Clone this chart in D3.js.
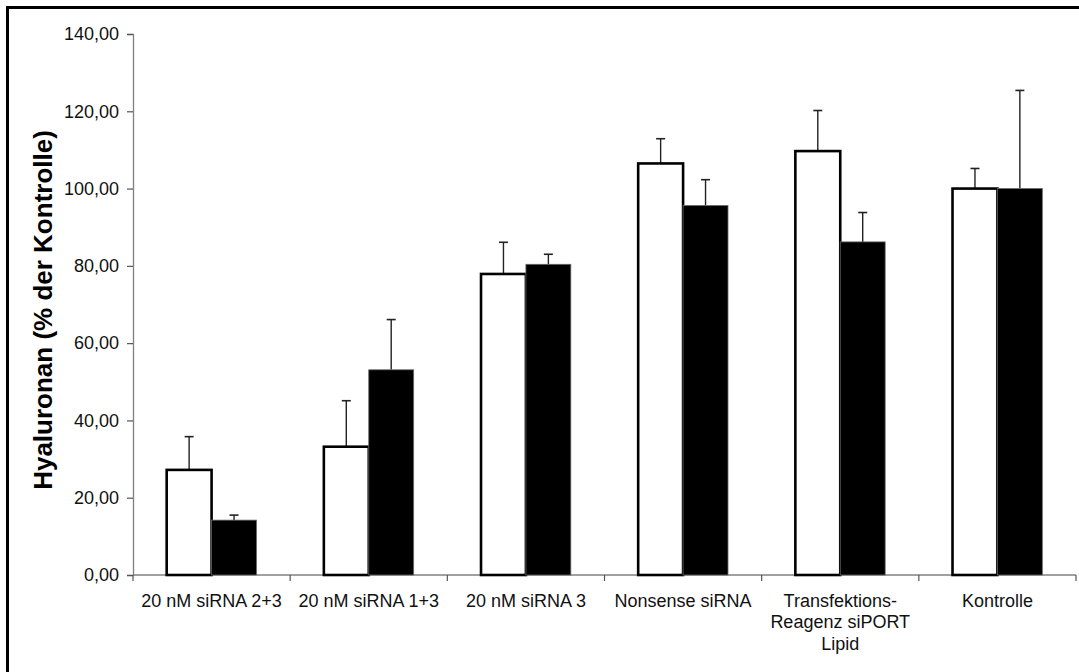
<!DOCTYPE html>
<html>
<head>
<meta charset="utf-8">
<script src="https://cdn.jsdelivr.net/npm/d3@7"></script>
<style>
  html, body { margin: 0; padding: 0; background: #fff; }
  svg { display: block; font-family: "Liberation Sans", Arial, sans-serif; }
</style>
</head>
<body>
<svg id="chart" width="1079" height="672"></svg>
<script>
// Hyaluronan levels per treatment, two series (open and filled bars)
const categories = [
  ["20 nM siRNA 2+3"],
  ["20 nM siRNA 1+3"],
  ["20 nM siRNA 3"],
  ["Nonsense siRNA"],
  ["Transfektions-", "Reagenz siPORT", "Lipid"],
  ["Kontrolle"]
];
const seriesA = [27.2, 33.2, 77.9, 106.5, 109.7, 100.0];
const seriesAErr = [8.6, 11.9, 8.2, 6.4, 10.5, 5.2];
const seriesB = [14.2, 53.1, 80.4, 95.6, 86.2, 100.0];
const seriesBErr = [1.3, 13.0, 2.6, 6.7, 7.6, 25.4];
const yTicks = [0, 20, 40, 60, 80, 100, 120, 140];
const yTitle = "Hyaluronan (% der Kontrolle)";

const svg = d3.select("#chart");
const plotLeft = 133, plotRight = 1076, plotTop = 34, plotBottom = 575;
const labelSize = 18;

// Outer frame (extends beyond the visible area on right/bottom)
svg.append("rect")
  .attr("x", 7.5).attr("y", 7.5)
  .attr("width", 1100).attr("height", 700)
  .attr("fill", "none").attr("stroke", "#000").attr("stroke-width", 3);

const x = d3.scaleBand().domain(d3.range(categories.length)).range([plotLeft, plotRight]).paddingInner(0).paddingOuter(0);
const y = d3.scaleLinear().domain([0, 140]).range([plotBottom, plotTop]);

const groupW = x.bandwidth();
const barW = groupW / 3.5;
const offset = (groupW - 2 * barW) / 2;

const fmt = v => d3.format(".2f")(v).replace(".", ",");

// Y axis
const yAxis = svg.append("g").attr("transform", `translate(${plotLeft},0)`)
  .call(d3.axisLeft(y).tickValues(yTicks).tickFormat(fmt).tickSize(6).tickPadding(8));
yAxis.select(".domain").attr("stroke", "#808080").attr("stroke-width", 1.3);
yAxis.selectAll(".tick line").attr("stroke", "#555").attr("stroke-width", 1.2);
yAxis.selectAll(".tick text").attr("font-size", labelSize).attr("fill", "#111")
  .attr("font-family", "Liberation Sans, Arial, sans-serif");

// X axis
const xAxis = svg.append("g").attr("transform", `translate(0,${plotBottom})`);
xAxis.append("line").attr("x1", plotLeft).attr("x2", plotRight).attr("y1", 0).attr("y2", 0)
  .attr("stroke", "#808080").attr("stroke-width", 1.3);
const xTickPos = d3.range(categories.length + 1).map(i => plotLeft + i * groupW);
xAxis.selectAll("line.xt").data(xTickPos).join("line").attr("class", "xt")
  .attr("x1", d => d).attr("x2", d => d).attr("y1", 0).attr("y2", 6)
  .attr("stroke", "#555").attr("stroke-width", 1.2);

const labels = svg.append("g");
categories.forEach((lines, i) => {
  const t = labels.append("text")
    .attr("x", x(i) + groupW / 2).attr("y", 607)
    .attr("text-anchor", "middle").attr("font-size", labelSize).attr("fill", "#111");
  lines.forEach((ln, j) => {
    t.append("tspan").attr("x", x(i) + groupW / 2).attr("dy", j === 0 ? 0 : 21.3).text(ln);
  });
});

// Bars
const bars = svg.append("g");
const drawSeries = (vals, errs, idx, fill, stroke, sw) => {
  vals.forEach((v, i) => {
    const bx = x(i) + offset + idx * barW;
    const cx = bx + barW / 2;
    const e = errs[i];
    // error bar (upper only)
    bars.append("line")
      .attr("x1", cx).attr("x2", cx).attr("y1", y(v)).attr("y2", y(v + e))
      .attr("stroke", "#222").attr("stroke-width", 1.4);
    bars.append("line")
      .attr("x1", cx - 4.5).attr("x2", cx + 4.5).attr("y1", y(v + e)).attr("y2", y(v + e))
      .attr("stroke", "#222").attr("stroke-width", 1.6);
    bars.append("rect")
      .attr("x", bx).attr("y", y(v))
      .attr("width", barW).attr("height", y(0) - y(v))
      .attr("fill", fill).attr("stroke", stroke).attr("stroke-width", sw);
  });
};
drawSeries(seriesA, seriesAErr, 0, "#fff", "#000", 2.6);
drawSeries(seriesB, seriesBErr, 1, "#000", "#666", 0.8);

// Y axis title
svg.append("text")
  .attr("transform", `translate(52,310) rotate(-90)`)
  .attr("text-anchor", "middle").attr("font-size", 26).attr("font-weight", "bold")
  .attr("fill", "#000").text(yTitle);
</script>
</body>
</html>
